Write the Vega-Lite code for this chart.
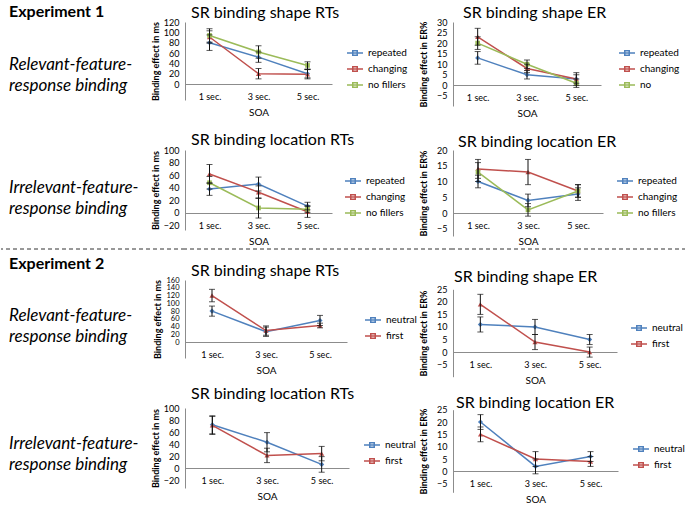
{
  "$schema": "https://vega.github.io/schema/vega-lite/v6.json",
  "padding": {"left": 0, "top": 4, "right": 0, "bottom": 0},
  "autosize": {"type": "pad"},
  "background": "white",
  "columns": 3,
  "spacing": {"row": 10, "column": 0},
  "bounds": "flush",
  "datasets": {
    "d": [
      {"panel":"A","soa":"1 sec.","series":"repeated","mean":80,"lo":65,"hi":95},
      {"panel":"A","soa":"3 sec.","series":"repeated","mean":52,"lo":42,"hi":62},
      {"panel":"A","soa":"5 sec.","series":"repeated","mean":20,"lo":12,"hi":28},
      {"panel":"A","soa":"1 sec.","series":"changing","mean":91,"lo":79,"hi":103},
      {"panel":"A","soa":"3 sec.","series":"changing","mean":20,"lo":10,"hi":30},
      {"panel":"A","soa":"5 sec.","series":"changing","mean":19,"lo":10,"hi":28},
      {"panel":"A","soa":"1 sec.","series":"no fillers","mean":94,"lo":81,"hi":107},
      {"panel":"A","soa":"3 sec.","series":"no fillers","mean":62,"lo":50,"hi":74},
      {"panel":"A","soa":"5 sec.","series":"no fillers","mean":36,"lo":29,"hi":43},
      {"panel":"B","soa":"1 sec.","series":"repeated","mean":13,"lo":10,"hi":16},
      {"panel":"B","soa":"3 sec.","series":"repeated","mean":5,"lo":3,"hi":7},
      {"panel":"B","soa":"5 sec.","series":"repeated","mean":3,"lo":0,"hi":6},
      {"panel":"B","soa":"1 sec.","series":"changing","mean":23,"lo":19,"hi":27},
      {"panel":"B","soa":"3 sec.","series":"changing","mean":8,"lo":6,"hi":10},
      {"panel":"B","soa":"5 sec.","series":"changing","mean":3,"lo":1,"hi":5},
      {"panel":"B","soa":"1 sec.","series":"no fillers","mean":20,"lo":17,"hi":23},
      {"panel":"B","soa":"3 sec.","series":"no fillers","mean":10,"lo":8,"hi":12},
      {"panel":"B","soa":"5 sec.","series":"no fillers","mean":1,"lo":-1,"hi":3},
      {"panel":"C","soa":"1 sec.","series":"repeated","mean":38,"lo":28,"hi":48},
      {"panel":"C","soa":"3 sec.","series":"repeated","mean":46,"lo":35,"hi":57},
      {"panel":"C","soa":"5 sec.","series":"repeated","mean":11,"lo":5,"hi":17},
      {"panel":"C","soa":"1 sec.","series":"changing","mean":62,"lo":47,"hi":77},
      {"panel":"C","soa":"3 sec.","series":"changing","mean":33,"lo":23,"hi":43},
      {"panel":"C","soa":"5 sec.","series":"changing","mean":2,"lo":-7,"hi":11},
      {"panel":"C","soa":"1 sec.","series":"no fillers","mean":48,"lo":38,"hi":58},
      {"panel":"C","soa":"3 sec.","series":"no fillers","mean":8,"lo":-8,"hi":24},
      {"panel":"C","soa":"5 sec.","series":"no fillers","mean":6,"lo":1,"hi":11},
      {"panel":"D","soa":"1 sec.","series":"repeated","mean":10,"lo":8,"hi":12},
      {"panel":"D","soa":"3 sec.","series":"repeated","mean":4,"lo":2,"hi":6},
      {"panel":"D","soa":"5 sec.","series":"repeated","mean":6,"lo":4,"hi":8},
      {"panel":"D","soa":"1 sec.","series":"changing","mean":14,"lo":11,"hi":17},
      {"panel":"D","soa":"3 sec.","series":"changing","mean":13,"lo":9,"hi":17},
      {"panel":"D","soa":"5 sec.","series":"changing","mean":7,"lo":5,"hi":9},
      {"panel":"D","soa":"1 sec.","series":"no fillers","mean":13,"lo":10,"hi":16},
      {"panel":"D","soa":"3 sec.","series":"no fillers","mean":1,"lo":-1,"hi":3},
      {"panel":"D","soa":"5 sec.","series":"no fillers","mean":7,"lo":5,"hi":9},
      {"panel":"E","soa":"1 sec.","series":"neutral","mean":80,"lo":67,"hi":93},
      {"panel":"E","soa":"3 sec.","series":"neutral","mean":27,"lo":15,"hi":39},
      {"panel":"E","soa":"5 sec.","series":"neutral","mean":56,"lo":43,"hi":69},
      {"panel":"E","soa":"1 sec.","series":"first","mean":120,"lo":104,"hi":136},
      {"panel":"E","soa":"3 sec.","series":"first","mean":30,"lo":18,"hi":42},
      {"panel":"E","soa":"5 sec.","series":"first","mean":43,"lo":37,"hi":49},
      {"panel":"F","soa":"1 sec.","series":"neutral","mean":11,"lo":8,"hi":14},
      {"panel":"F","soa":"3 sec.","series":"neutral","mean":10,"lo":7,"hi":13},
      {"panel":"F","soa":"5 sec.","series":"neutral","mean":5,"lo":3,"hi":7},
      {"panel":"F","soa":"1 sec.","series":"first","mean":19,"lo":15,"hi":23},
      {"panel":"F","soa":"3 sec.","series":"first","mean":4,"lo":1,"hi":7},
      {"panel":"F","soa":"5 sec.","series":"first","mean":0,"lo":-2,"hi":2},
      {"panel":"G","soa":"1 sec.","series":"neutral","mean":72,"lo":57,"hi":87},
      {"panel":"G","soa":"3 sec.","series":"neutral","mean":43,"lo":27,"hi":59},
      {"panel":"G","soa":"5 sec.","series":"neutral","mean":6,"lo":-7,"hi":19},
      {"panel":"G","soa":"1 sec.","series":"first","mean":71,"lo":56,"hi":86},
      {"panel":"G","soa":"3 sec.","series":"first","mean":21,"lo":9,"hi":33},
      {"panel":"G","soa":"5 sec.","series":"first","mean":24,"lo":12,"hi":36},
      {"panel":"H","soa":"1 sec.","series":"neutral","mean":20,"lo":17,"hi":23},
      {"panel":"H","soa":"3 sec.","series":"neutral","mean":2,"lo":-1,"hi":5},
      {"panel":"H","soa":"5 sec.","series":"neutral","mean":6,"lo":4,"hi":8},
      {"panel":"H","soa":"1 sec.","series":"first","mean":15,"lo":12,"hi":18},
      {"panel":"H","soa":"3 sec.","series":"first","mean":5,"lo":2,"hi":8},
      {"panel":"H","soa":"5 sec.","series":"first","mean":4,"lo":2,"hi":6}
    ]
  },
  "resolve": {
    "scale": {"x": "independent", "y": "independent", "stroke": "independent"},
    "legend": {"stroke": "independent"}
  },
  "concat": [
    {
      "width": 184, "height": 118,
      "title": {"text": "Experiment 1", "anchor": "start", "frame": "group", "dx": 8, "offset": -11, "baseline": "alphabetic", "fontSize": 16, "fontWeight": "bold"},
      "data": {"values": [{"lines": ["Relevant-feature-", "response binding"]}]},
      "mark": {"type": "text", "align": "left", "baseline": "alphabetic", "fontSize": 17, "fontStyle": "italic", "lineHeight": 21, "dx": 8, "dy": -11},
      "encoding": {"text": {"field": "lines"}, "x": {"datum": 0, "type": "quantitative", "scale": {"domain": [0, 1]}, "axis": null}}
    },
    {
      "width": 268, "height": 118,
      "title": {"text": "SR binding shape RTs", "anchor": "start", "frame": "group", "dx": 6, "offset": -16, "baseline": "alphabetic", "fontSize": 16, "fontWeight": "normal"},
      "data": {"name": "d"},
      "transform": [{"filter": "datum.panel == 'A'"}],
      "encoding": {
        "x": {"field": "soa", "type": "nominal", "scale": {"type": "point", "domain": ["1 sec.", "3 sec.", "5 sec."], "range": [0, 147], "padding": 0.5}, "axis": {"title": "SOA", "offset": -56}},
        "y": {"field": "mean", "type": "quantitative", "scale": {"domain": [-30.9, 120], "range": [78, 0], "nice": false, "zero": false}, "axis": {"title": "Binding effect in ms", "values": [0, 20, 40, 60, 80, 100, 120]}}
      },
      "layer": [
        {"mark": {"type": "line", "strokeWidth": 1.5}, "encoding": {"stroke": {"field": "series", "type": "nominal", "scale": {"domain": ["repeated", "changing", "no fillers"], "range": ["#4F81BD", "#C0504D", "#9BBB59"]}, "legend": {"orient": "none", "legendX": 161, "legendY": 22, "title": null, "symbolType": "M-1,0L1,0M-0.28,-0.28L0.28,-0.28L0.28,0.28L-0.28,0.28Z", "symbolSize": 256, "symbolStrokeWidth": 1.5, "rowPadding": 1, "labelOffset": 4}}}},
        {"transform": [{"filter": "datum.series == 'repeated'"}], "mark": {"type": "point", "filled": true, "shape": "diamond", "color": "#4F81BD", "size": 26, "opacity": 1}},
        {"transform": [{"filter": "datum.series == 'changing'"}], "mark": {"type": "point", "filled": true, "shape": "triangle-up", "color": "#C0504D", "size": 26, "opacity": 1}},
        {"transform": [{"filter": "datum.series == 'no fillers'"}], "mark": {"type": "point", "filled": true, "shape": "square", "color": "#9BBB59", "size": 22, "opacity": 1}},
        {"mark": {"type": "rule", "color": "#111", "strokeWidth": 1}, "encoding": {"y": {"field": "lo", "type": "quantitative", "scale": {"domain": [-30.9, 120], "range": [78, 0], "nice": false, "zero": false}, "axis": {"title": "Binding effect in ms", "values": [0, 20, 40, 60, 80, 100, 120]}}, "y2": {"field": "hi"}}},
        {"mark": {"type": "tick", "color": "#111", "thickness": 1, "size": 6}, "encoding": {"y": {"field": "lo", "type": "quantitative", "scale": {"domain": [-30.9, 120], "range": [78, 0], "nice": false, "zero": false}, "axis": {"title": "Binding effect in ms", "values": [0, 20, 40, 60, 80, 100, 120]}}}},
        {"mark": {"type": "tick", "color": "#111", "thickness": 1, "size": 6}, "encoding": {"y": {"field": "hi", "type": "quantitative", "scale": {"domain": [-30.9, 120], "range": [78, 0], "nice": false, "zero": false}, "axis": {"title": "Binding effect in ms", "values": [0, 20, 40, 60, 80, 100, 120]}}}}
      ]
    },
    {
      "width": 233, "height": 118,
      "title": {"text": "SR binding shape ER", "anchor": "start", "frame": "group", "dx": 10, "offset": -16, "baseline": "alphabetic", "fontSize": 16, "fontWeight": "normal"},
      "data": {"name": "d"},
      "transform": [{"filter": "datum.panel == 'B'"}],
      "encoding": {
        "x": {"field": "soa", "type": "nominal", "scale": {"type": "point", "domain": ["1 sec.", "3 sec.", "5 sec."], "range": [0, 148], "padding": 0.5}, "axis": {"title": "SOA", "offset": -55}},
        "y": {"field": "mean", "type": "quantitative", "scale": {"domain": [-9.8, 30], "range": [84, 0], "nice": false, "zero": false}, "axis": {"title": "Binding effect in ER%", "values": [-5, 0, 5, 10, 15, 20, 25, 30], "titlePadding": 8}}
      },
      "layer": [
        {"mark": {"type": "line", "strokeWidth": 1.5}, "encoding": {"stroke": {"field": "series", "type": "nominal", "scale": {"domain": ["repeated", "changing", "no fillers"], "range": ["#4F81BD", "#C0504D", "#9BBB59"]}, "legend": {"orient": "none", "legendX": 165, "legendY": 22, "title": null, "symbolType": "M-1,0L1,0M-0.28,-0.28L0.28,-0.28L0.28,0.28L-0.28,0.28Z", "symbolSize": 256, "symbolStrokeWidth": 1.5, "rowPadding": 1, "labelOffset": 4, "labelExpr": "datum.label == 'no fillers' ? 'no' : datum.label"}}}},
        {"transform": [{"filter": "datum.series == 'repeated'"}], "mark": {"type": "point", "filled": true, "shape": "diamond", "color": "#4F81BD", "size": 26, "opacity": 1}},
        {"transform": [{"filter": "datum.series == 'changing'"}], "mark": {"type": "point", "filled": true, "shape": "triangle-up", "color": "#C0504D", "size": 26, "opacity": 1}},
        {"transform": [{"filter": "datum.series == 'no fillers'"}], "mark": {"type": "point", "filled": true, "shape": "square", "color": "#9BBB59", "size": 22, "opacity": 1}},
        {"mark": {"type": "rule", "color": "#111", "strokeWidth": 1}, "encoding": {"y": {"field": "lo", "type": "quantitative", "scale": {"domain": [-9.8, 30], "range": [84, 0], "nice": false, "zero": false}, "axis": {"title": "Binding effect in ER%", "values": [-5, 0, 5, 10, 15, 20, 25, 30], "titlePadding": 8}}, "y2": {"field": "hi"}}},
        {"mark": {"type": "tick", "color": "#111", "thickness": 1, "size": 6}, "encoding": {"y": {"field": "lo", "type": "quantitative", "scale": {"domain": [-9.8, 30], "range": [84, 0], "nice": false, "zero": false}, "axis": {"title": "Binding effect in ER%", "values": [-5, 0, 5, 10, 15, 20, 25, 30], "titlePadding": 8}}}},
        {"mark": {"type": "tick", "color": "#111", "thickness": 1, "size": 6}, "encoding": {"y": {"field": "hi", "type": "quantitative", "scale": {"domain": [-9.8, 30], "range": [84, 0], "nice": false, "zero": false}, "axis": {"title": "Binding effect in ER%", "values": [-5, 0, 5, 10, 15, 20, 25, 30], "titlePadding": 8}}}}
      ]
    },
    {
      "width": 184, "height": 89,
      "data": {"values": [{"lines": ["Irrelevant-feature-", "response binding"]}]},
      "mark": {"type": "text", "align": "left", "baseline": "alphabetic", "fontSize": 17, "fontStyle": "italic", "lineHeight": 21, "dx": 8, "dy": -2},
      "encoding": {"text": {"field": "lines"}, "x": {"datum": 0, "type": "quantitative", "scale": {"domain": [0, 1]}, "axis": null}}
    },
    {
      "width": 268, "height": 89,
      "title": {"text": "SR binding location RTs", "anchor": "start", "frame": "group", "dx": 6, "offset": -15, "baseline": "alphabetic", "fontSize": 16, "fontWeight": "normal"},
      "data": {"name": "d"},
      "transform": [{"filter": "datum.panel == 'C'"}],
      "encoding": {
        "x": {"field": "soa", "type": "nominal", "scale": {"type": "point", "domain": ["1 sec.", "3 sec.", "5 sec."], "range": [0, 147], "padding": 0.5}, "axis": {"title": "SOA", "offset": -26}},
        "y": {"field": "mean", "type": "quantitative", "scale": {"domain": [-27, 100], "range": [80, 0], "nice": false, "zero": false}, "axis": {"title": "Binding effect in ms", "values": [-20, 0, 20, 40, 60, 80, 100]}}
      },
      "layer": [
        {"mark": {"type": "line", "strokeWidth": 1.5}, "encoding": {"stroke": {"field": "series", "type": "nominal", "scale": {"domain": ["repeated", "changing", "no fillers"], "range": ["#4F81BD", "#C0504D", "#9BBB59"]}, "legend": {"orient": "none", "legendX": 159, "legendY": 22, "title": null, "symbolType": "M-1,0L1,0M-0.28,-0.28L0.28,-0.28L0.28,0.28L-0.28,0.28Z", "symbolSize": 256, "symbolStrokeWidth": 1.5, "rowPadding": 1, "labelOffset": 4}}}},
        {"transform": [{"filter": "datum.series == 'repeated'"}], "mark": {"type": "point", "filled": true, "shape": "diamond", "color": "#4F81BD", "size": 26, "opacity": 1}},
        {"transform": [{"filter": "datum.series == 'changing'"}], "mark": {"type": "point", "filled": true, "shape": "triangle-up", "color": "#C0504D", "size": 26, "opacity": 1}},
        {"transform": [{"filter": "datum.series == 'no fillers'"}], "mark": {"type": "point", "filled": true, "shape": "square", "color": "#9BBB59", "size": 22, "opacity": 1}},
        {"mark": {"type": "rule", "color": "#111", "strokeWidth": 1}, "encoding": {"y": {"field": "lo", "type": "quantitative", "scale": {"domain": [-27, 100], "range": [80, 0], "nice": false, "zero": false}, "axis": {"title": "Binding effect in ms", "values": [-20, 0, 20, 40, 60, 80, 100]}}, "y2": {"field": "hi"}}},
        {"mark": {"type": "tick", "color": "#111", "thickness": 1, "size": 6}, "encoding": {"y": {"field": "lo", "type": "quantitative", "scale": {"domain": [-27, 100], "range": [80, 0], "nice": false, "zero": false}, "axis": {"title": "Binding effect in ms", "values": [-20, 0, 20, 40, 60, 80, 100]}}}},
        {"mark": {"type": "tick", "color": "#111", "thickness": 1, "size": 6}, "encoding": {"y": {"field": "hi", "type": "quantitative", "scale": {"domain": [-27, 100], "range": [80, 0], "nice": false, "zero": false}, "axis": {"title": "Binding effect in ms", "values": [-20, 0, 20, 40, 60, 80, 100]}}}}
      ]
    },
    {
      "width": 233, "height": 89,
      "title": {"text": "SR binding location ER", "anchor": "start", "frame": "group", "dx": 5, "offset": -16.5, "baseline": "alphabetic", "fontSize": 16, "fontWeight": "normal"},
      "data": {"name": "d"},
      "transform": [{"filter": "datum.panel == 'D'"}],
      "encoding": {
        "x": {"field": "soa", "type": "nominal", "scale": {"type": "point", "domain": ["1 sec.", "3 sec.", "5 sec."], "range": [0, 150], "padding": 0.5}, "axis": {"title": "SOA", "offset": -26}},
        "y": {"field": "mean", "type": "quantitative", "scale": {"domain": [-7.3, 20], "range": [86, 0], "nice": false, "zero": false}, "axis": {"title": "Binding effect in ER%", "values": [-5, 0, 5, 10, 15, 20], "titlePadding": 8}}
      },
      "layer": [
        {"mark": {"type": "line", "strokeWidth": 1.5}, "encoding": {"stroke": {"field": "series", "type": "nominal", "scale": {"domain": ["repeated", "changing", "no fillers"], "range": ["#4F81BD", "#C0504D", "#9BBB59"]}, "legend": {"orient": "none", "legendX": 163, "legendY": 22, "title": null, "symbolType": "M-1,0L1,0M-0.28,-0.28L0.28,-0.28L0.28,0.28L-0.28,0.28Z", "symbolSize": 256, "symbolStrokeWidth": 1.5, "rowPadding": 1, "labelOffset": 4}}}},
        {"transform": [{"filter": "datum.series == 'repeated'"}], "mark": {"type": "point", "filled": true, "shape": "diamond", "color": "#4F81BD", "size": 26, "opacity": 1}},
        {"transform": [{"filter": "datum.series == 'changing'"}], "mark": {"type": "point", "filled": true, "shape": "triangle-up", "color": "#C0504D", "size": 26, "opacity": 1}},
        {"transform": [{"filter": "datum.series == 'no fillers'"}], "mark": {"type": "point", "filled": true, "shape": "square", "color": "#9BBB59", "size": 22, "opacity": 1}},
        {"mark": {"type": "rule", "color": "#111", "strokeWidth": 1}, "encoding": {"y": {"field": "lo", "type": "quantitative", "scale": {"domain": [-7.3, 20], "range": [86, 0], "nice": false, "zero": false}, "axis": {"title": "Binding effect in ER%", "values": [-5, 0, 5, 10, 15, 20], "titlePadding": 8}}, "y2": {"field": "hi"}}},
        {"mark": {"type": "tick", "color": "#111", "thickness": 1, "size": 6}, "encoding": {"y": {"field": "lo", "type": "quantitative", "scale": {"domain": [-7.3, 20], "range": [86, 0], "nice": false, "zero": false}, "axis": {"title": "Binding effect in ER%", "values": [-5, 0, 5, 10, 15, 20], "titlePadding": 8}}}},
        {"mark": {"type": "tick", "color": "#111", "thickness": 1, "size": 6}, "encoding": {"y": {"field": "hi", "type": "quantitative", "scale": {"domain": [-7.3, 20], "range": [86, 0], "nice": false, "zero": false}, "axis": {"title": "Binding effect in ER%", "values": [-5, 0, 5, 10, 15, 20], "titlePadding": 8}}}}
      ]
    },
    {
      "width": 184, "height": 21,
      "data": {"values": [{"part": "separator"}]},
      "mark": {"type": "rule", "strokeDash": [4, 3], "color": "#333", "strokeWidth": 1},
      "encoding": {"y": {"datum": 1, "type": "quantitative", "scale": {"domain": [0, 1]}, "axis": null}}
    },
    {
      "width": 268, "height": 21,
      "data": {"values": [{"part": "separator"}]},
      "mark": {"type": "rule", "strokeDash": [4, 3], "color": "#333", "strokeWidth": 1},
      "encoding": {"y": {"datum": 1, "type": "quantitative", "scale": {"domain": [0, 1]}, "axis": null}}
    },
    {
      "width": 233, "height": 21,
      "data": {"values": [{"part": "separator"}]},
      "mark": {"type": "rule", "strokeDash": [4, 3], "color": "#333", "strokeWidth": 1},
      "encoding": {"y": {"datum": 1, "type": "quantitative", "scale": {"domain": [0, 1]}, "axis": null}}
    },
    {
      "width": 184, "height": 118,
      "title": {"text": "Experiment 2", "anchor": "start", "frame": "group", "dx": 8, "offset": -5, "baseline": "alphabetic", "fontSize": 16, "fontWeight": "bold"},
      "data": {"values": [{"lines": ["Relevant-feature-", "response binding"]}]},
      "mark": {"type": "text", "align": "left", "baseline": "alphabetic", "fontSize": 17, "fontStyle": "italic", "lineHeight": 21, "dx": 8, "dy": -18},
      "encoding": {"text": {"field": "lines"}, "x": {"datum": 0, "type": "quantitative", "scale": {"domain": [0, 1]}, "axis": null}}
    },
    {
      "width": 268, "height": 118,
      "title": {"text": "SR binding shape RTs", "anchor": "start", "frame": "group", "dx": 6, "offset": -16, "baseline": "alphabetic", "fontSize": 16, "fontWeight": "normal"},
      "data": {"name": "d"},
      "transform": [{"filter": "datum.panel == 'E'"}],
      "encoding": {
        "x": {"field": "soa", "type": "nominal", "scale": {"type": "point", "domain": ["1 sec.", "3 sec.", "5 sec."], "range": [0, 162], "padding": 0.5}, "axis": {"title": "SOA", "offset": -56}},
        "y": {"field": "mean", "type": "quantitative", "scale": {"domain": [-40.5, 160], "range": [78, 0], "nice": false, "zero": false}, "axis": {"title": "Binding effect in ms", "values": [0, 20, 40, 60, 80, 100, 120, 140, 160], "labelFontSize": 7.5}}
      },
      "layer": [
        {"mark": {"type": "line", "strokeWidth": 1.5}, "encoding": {"stroke": {"field": "series", "type": "nominal", "scale": {"domain": ["neutral", "first"], "range": ["#4F81BD", "#C0504D"]}, "legend": {"orient": "none", "legendX": 179, "legendY": 31, "title": null, "symbolType": "M-1,0L1,0M-0.28,-0.28L0.28,-0.28L0.28,0.28L-0.28,0.28Z", "symbolSize": 256, "symbolStrokeWidth": 1.5, "rowPadding": 1, "labelOffset": 4}}}},
        {"transform": [{"filter": "datum.series == 'neutral'"}], "mark": {"type": "point", "filled": true, "shape": "diamond", "color": "#4F81BD", "size": 26, "opacity": 1}},
        {"transform": [{"filter": "datum.series == 'first'"}], "mark": {"type": "point", "filled": true, "shape": "triangle-up", "color": "#C0504D", "size": 26, "opacity": 1}},
        {"mark": {"type": "rule", "color": "#111", "strokeWidth": 1}, "encoding": {"y": {"field": "lo", "type": "quantitative", "scale": {"domain": [-40.5, 160], "range": [78, 0], "nice": false, "zero": false}, "axis": {"title": "Binding effect in ms", "values": [0, 20, 40, 60, 80, 100, 120, 140, 160], "labelFontSize": 7.5}}, "y2": {"field": "hi"}}},
        {"mark": {"type": "tick", "color": "#111", "thickness": 1, "size": 6}, "encoding": {"y": {"field": "lo", "type": "quantitative", "scale": {"domain": [-40.5, 160], "range": [78, 0], "nice": false, "zero": false}, "axis": {"title": "Binding effect in ms", "values": [0, 20, 40, 60, 80, 100, 120, 140, 160], "labelFontSize": 7.5}}}},
        {"mark": {"type": "tick", "color": "#111", "thickness": 1, "size": 6}, "encoding": {"y": {"field": "hi", "type": "quantitative", "scale": {"domain": [-40.5, 160], "range": [78, 0], "nice": false, "zero": false}, "axis": {"title": "Binding effect in ms", "values": [0, 20, 40, 60, 80, 100, 120, 140, 160], "labelFontSize": 7.5}}}}
      ]
    },
    {
      "width": 233, "height": 118,
      "title": {"text": "SR binding shape ER", "anchor": "start", "frame": "group", "dx": 1, "offset": -18, "baseline": "alphabetic", "fontSize": 16, "fontWeight": "normal"},
      "data": {"name": "d"},
      "transform": [{"filter": "datum.panel == 'F'"}],
      "encoding": {
        "x": {"field": "soa", "type": "nominal", "scale": {"type": "point", "domain": ["1 sec.", "3 sec.", "5 sec."], "range": [0, 164], "padding": 0.5}, "axis": {"title": "SOA", "offset": -46}},
        "y": {"field": "mean", "type": "quantitative", "scale": {"domain": [-9.8, 25], "range": [96.7, 9.3], "nice": false, "zero": false}, "axis": {"title": "Binding effect in ER%", "values": [-5, 0, 5, 10, 15, 20, 25], "titlePadding": 8}}
      },
      "layer": [
        {"mark": {"type": "line", "strokeWidth": 1.5}, "encoding": {"stroke": {"field": "series", "type": "nominal", "scale": {"domain": ["neutral", "first"], "range": ["#4F81BD", "#C0504D"]}, "legend": {"orient": "none", "legendX": 177, "legendY": 39, "title": null, "symbolType": "M-1,0L1,0M-0.28,-0.28L0.28,-0.28L0.28,0.28L-0.28,0.28Z", "symbolSize": 256, "symbolStrokeWidth": 1.5, "rowPadding": 1, "labelOffset": 4}}}},
        {"transform": [{"filter": "datum.series == 'neutral'"}], "mark": {"type": "point", "filled": true, "shape": "diamond", "color": "#4F81BD", "size": 26, "opacity": 1}},
        {"transform": [{"filter": "datum.series == 'first'"}], "mark": {"type": "point", "filled": true, "shape": "triangle-up", "color": "#C0504D", "size": 26, "opacity": 1}},
        {"mark": {"type": "rule", "color": "#111", "strokeWidth": 1}, "encoding": {"y": {"field": "lo", "type": "quantitative", "scale": {"domain": [-9.8, 25], "range": [96.7, 9.3], "nice": false, "zero": false}, "axis": {"title": "Binding effect in ER%", "values": [-5, 0, 5, 10, 15, 20, 25], "titlePadding": 8}}, "y2": {"field": "hi"}}},
        {"mark": {"type": "tick", "color": "#111", "thickness": 1, "size": 6}, "encoding": {"y": {"field": "lo", "type": "quantitative", "scale": {"domain": [-9.8, 25], "range": [96.7, 9.3], "nice": false, "zero": false}, "axis": {"title": "Binding effect in ER%", "values": [-5, 0, 5, 10, 15, 20, 25], "titlePadding": 8}}}},
        {"mark": {"type": "tick", "color": "#111", "thickness": 1, "size": 6}, "encoding": {"y": {"field": "hi", "type": "quantitative", "scale": {"domain": [-9.8, 25], "range": [96.7, 9.3], "nice": false, "zero": false}, "axis": {"title": "Binding effect in ER%", "values": [-5, 0, 5, 10, 15, 20, 25], "titlePadding": 8}}}}
      ]
    },
    {
      "width": 184, "height": 84,
      "data": {"values": [{"lines": ["Irrelevant-feature-", "response binding"]}]},
      "mark": {"type": "text", "align": "left", "baseline": "alphabetic", "fontSize": 17, "fontStyle": "italic", "lineHeight": 21, "dx": 8, "dy": -1},
      "encoding": {"text": {"field": "lines"}, "x": {"datum": 0, "type": "quantitative", "scale": {"domain": [0, 1]}, "axis": null}}
    },
    {
      "width": 268, "height": 84,
      "title": {"text": "SR binding location RTs", "anchor": "start", "frame": "group", "dx": 6, "offset": -11, "baseline": "alphabetic", "fontSize": 16, "fontWeight": "normal"},
      "data": {"name": "d"},
      "transform": [{"filter": "datum.panel == 'G'"}],
      "encoding": {
        "x": {"field": "soa", "type": "nominal", "scale": {"type": "point", "domain": ["1 sec.", "3 sec.", "5 sec."], "range": [0, 164], "padding": 0.5}, "axis": {"title": "SOA", "offset": -24}},
        "y": {"field": "mean", "type": "quantitative", "scale": {"domain": [-33.3, 100], "range": [80, 0], "nice": false, "zero": false}, "axis": {"title": "Binding effect in ms", "values": [-20, 0, 20, 40, 60, 80, 100]}}
      },
      "layer": [
        {"mark": {"type": "line", "strokeWidth": 1.5}, "encoding": {"stroke": {"field": "series", "type": "nominal", "scale": {"domain": ["neutral", "first"], "range": ["#4F81BD", "#C0504D"]}, "legend": {"orient": "none", "legendX": 178, "legendY": 28, "title": null, "symbolType": "M-1,0L1,0M-0.28,-0.28L0.28,-0.28L0.28,0.28L-0.28,0.28Z", "symbolSize": 256, "symbolStrokeWidth": 1.5, "rowPadding": 1, "labelOffset": 4}}}},
        {"transform": [{"filter": "datum.series == 'neutral'"}], "mark": {"type": "point", "filled": true, "shape": "diamond", "color": "#4F81BD", "size": 26, "opacity": 1}},
        {"transform": [{"filter": "datum.series == 'first'"}], "mark": {"type": "point", "filled": true, "shape": "triangle-up", "color": "#C0504D", "size": 26, "opacity": 1}},
        {"mark": {"type": "rule", "color": "#111", "strokeWidth": 1}, "encoding": {"y": {"field": "lo", "type": "quantitative", "scale": {"domain": [-33.3, 100], "range": [80, 0], "nice": false, "zero": false}, "axis": {"title": "Binding effect in ms", "values": [-20, 0, 20, 40, 60, 80, 100]}}, "y2": {"field": "hi"}}},
        {"mark": {"type": "tick", "color": "#111", "thickness": 1, "size": 6}, "encoding": {"y": {"field": "lo", "type": "quantitative", "scale": {"domain": [-33.3, 100], "range": [80, 0], "nice": false, "zero": false}, "axis": {"title": "Binding effect in ms", "values": [-20, 0, 20, 40, 60, 80, 100]}}}},
        {"mark": {"type": "tick", "color": "#111", "thickness": 1, "size": 6}, "encoding": {"y": {"field": "hi", "type": "quantitative", "scale": {"domain": [-33.3, 100], "range": [80, 0], "nice": false, "zero": false}, "axis": {"title": "Binding effect in ms", "values": [-20, 0, 20, 40, 60, 80, 100]}}}}
      ]
    },
    {
      "width": 233, "height": 84,
      "title": {"text": "SR binding location ER", "anchor": "start", "frame": "group", "dx": 3, "offset": -17.8, "baseline": "alphabetic", "fontSize": 16, "fontWeight": "normal"},
      "data": {"name": "d"},
      "transform": [{"filter": "datum.panel == 'H'"}],
      "encoding": {
        "x": {"field": "soa", "type": "nominal", "scale": {"type": "point", "domain": ["1 sec.", "3 sec.", "5 sec."], "range": [0, 165], "padding": 0.5}, "axis": {"title": "SOA", "offset": -21}},
        "y": {"field": "mean", "type": "quantitative", "scale": {"domain": [-8.5, 25], "range": [84.3, 1.7], "nice": false, "zero": false}, "axis": {"title": "Binding effect in ER%", "values": [-5, 0, 5, 10, 15, 20, 25], "titlePadding": 8}}
      },
      "layer": [
        {"mark": {"type": "line", "strokeWidth": 1.5}, "encoding": {"stroke": {"field": "series", "type": "nominal", "scale": {"domain": ["neutral", "first"], "range": ["#4F81BD", "#C0504D"]}, "legend": {"orient": "none", "legendX": 179, "legendY": 32, "title": null, "symbolType": "M-1,0L1,0M-0.28,-0.28L0.28,-0.28L0.28,0.28L-0.28,0.28Z", "symbolSize": 256, "symbolStrokeWidth": 1.5, "rowPadding": 1, "labelOffset": 4}}}},
        {"transform": [{"filter": "datum.series == 'neutral'"}], "mark": {"type": "point", "filled": true, "shape": "diamond", "color": "#4F81BD", "size": 26, "opacity": 1}},
        {"transform": [{"filter": "datum.series == 'first'"}], "mark": {"type": "point", "filled": true, "shape": "triangle-up", "color": "#C0504D", "size": 26, "opacity": 1}},
        {"mark": {"type": "rule", "color": "#111", "strokeWidth": 1}, "encoding": {"y": {"field": "lo", "type": "quantitative", "scale": {"domain": [-8.5, 25], "range": [84.3, 1.7], "nice": false, "zero": false}, "axis": {"title": "Binding effect in ER%", "values": [-5, 0, 5, 10, 15, 20, 25], "titlePadding": 8}}, "y2": {"field": "hi"}}},
        {"mark": {"type": "tick", "color": "#111", "thickness": 1, "size": 6}, "encoding": {"y": {"field": "lo", "type": "quantitative", "scale": {"domain": [-8.5, 25], "range": [84.3, 1.7], "nice": false, "zero": false}, "axis": {"title": "Binding effect in ER%", "values": [-5, 0, 5, 10, 15, 20, 25], "titlePadding": 8}}}},
        {"mark": {"type": "tick", "color": "#111", "thickness": 1, "size": 6}, "encoding": {"y": {"field": "hi", "type": "quantitative", "scale": {"domain": [-8.5, 25], "range": [84.3, 1.7], "nice": false, "zero": false}, "axis": {"title": "Binding effect in ER%", "values": [-5, 0, 5, 10, 15, 20, 25], "titlePadding": 8}}}}
      ]
    }
  ],
  "config": {
    "font": "Lato",
    "view": {"stroke": null},
    "title": {"font": "Lato", "color": "#000"},
    "text": {"font": "Lato", "color": "#000"},
    "axis": {"labelFont": "Lato", "titleFont": "Lato", "grid": false, "ticks": false, "domainColor": "#8c8c8c", "labelColor": "#000", "titleColor": "#000", "labelFontSize": 9},
    "axisY": {"titleFontSize": 9, "titleFontWeight": "bold", "labelPadding": 6, "titlePadding": 3, "labelOverlap": false},
    "axisX": {"labelAngle": 0, "labelPadding": 8, "titlePadding": 6, "titleFontSize": 10, "titleFontWeight": "normal"},
    "legend": {"labelFont": "Lato", "labelFontSize": 10, "labelColor": "#000"}
  }
}
